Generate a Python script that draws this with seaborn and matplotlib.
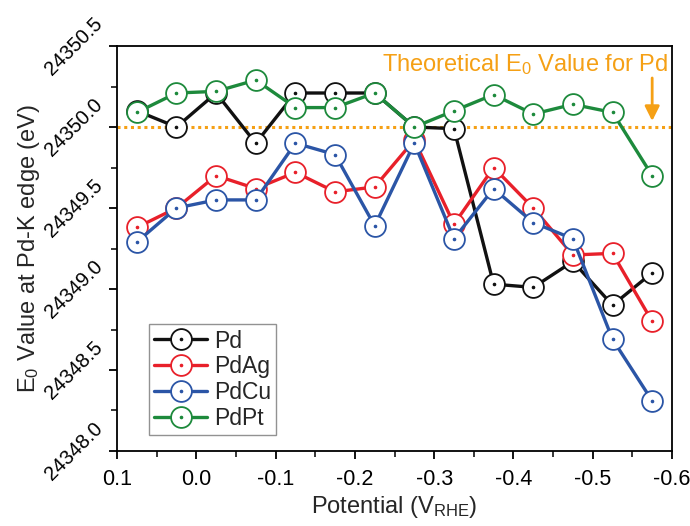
import numpy as np
import pandas as pd
import matplotlib
matplotlib.use("Agg")
import matplotlib.pyplot as plt
import seaborn as sns
from matplotlib.ticker import MultipleLocator
from matplotlib.legend_handler import HandlerTuple

potential = [0.075, 0.025, -0.025, -0.075, -0.125, -0.175, -0.225,
             -0.275, -0.325, -0.375, -0.425, -0.475, -0.525, -0.575]
pd_vals = [24350.10, 24350.00, 24350.21, 24349.90, 24350.21, 24350.21, 24350.21,
           24350.00, 24349.99, 24349.03, 24349.01, 24349.17, 24348.90, 24349.10]
pdag_vals = [24349.38, 24349.50, 24349.70, 24349.62, 24349.72, 24349.60, 24349.63,
             24349.92, 24349.40, 24349.75, 24349.50, 24349.21, 24349.22, 24348.80]
pdcu_vals = [24349.29, 24349.50, 24349.55, 24349.55, 24349.90, 24349.83, 24349.39,
             24349.90, 24349.31, 24349.62, 24349.41, 24349.31, 24348.69, 24348.31]
pdpt_vals = [24350.09, 24350.21, 24350.22, 24350.29, 24350.12, 24350.12, 24350.21,
             24350.00, 24350.10, 24350.20, 24350.08, 24350.14, 24350.09, 24349.70]
series_names = ["Pd", "PdAg", "PdCu", "PdPt"]
theoretical_e0 = 24350.0
x_ticks = [0.1, 0.0, -0.1, -0.2, -0.3, -0.4, -0.5, -0.6]
y_ticks = [24348.0, 24348.5, 24349.0, 24349.5, 24350.0, 24350.5]

colors = {"Pd": "#111111", "PdAg": "#e8202a", "PdCu": "#2b55a6", "PdPt": "#1d8a3c"}
orange = "#f5a015"

sns.set_theme(style="ticks")
plt.rcParams["font.family"] = ["Liberation Sans", "DejaVu Sans"]
plt.rcParams["mathtext.default"] = "regular"

fig = plt.figure(figsize=(6.9, 5.26), dpi=100)
ax = fig.add_axes([0.1696, 0.1426, 0.8043, 0.7699])

df = pd.DataFrame({
    "x": potential * 4,
    "y": pd_vals + pdag_vals + pdcu_vals + pdpt_vals,
    "series": sum([[n] * len(potential) for n in series_names], []),
})

# theoretical line
ax.axhline(theoretical_e0, color=orange, linestyle=(0, (1, 1.2)), linewidth=2.2, zorder=1)

handles = []
for i, name in enumerate(series_names):
    sub = df[df["series"] == name]
    c = colors[name]
    sns.lineplot(data=sub, x="x", y="y", ax=ax, color=c, sort=False,
                 linewidth=2.4, marker="o", markersize=15,
                 markerfacecolor="white", markeredgecolor=c, markeredgewidth=1.3,
                 zorder=3 + i, legend=False)
    line = ax.lines[-1]
    dots, = ax.plot(sub["x"], sub["y"], linestyle="none", marker="o", ms=1.6,
                    color=c, zorder=3 + i)
    handles.append((line, dots))

leg = ax.legend(handles, series_names, loc="lower left", bbox_to_anchor=(0.058, 0.04),
                handler_map={tuple: HandlerTuple(ndivide=1, pad=0)},
                fontsize=16.5, frameon=True, fancybox=False, edgecolor="#777777",
                handlelength=2.3, handletextpad=0.3, labelspacing=0.12,
                borderpad=0.22, borderaxespad=0)
leg.get_frame().set_linewidth(1.0)

ax.set_xlim(0.1, -0.6)
ax.set_ylim(24348.0, 24350.5)
ax.set_xticks(x_ticks)
ax.set_xticklabels([f"{v:.1f}" for v in x_ticks])
ax.set_yticks(y_ticks)
ax.set_yticklabels([f"{v:.1f}" for v in y_ticks], rotation=45, ha="right",
                   va="center")
ax.xaxis.set_minor_locator(MultipleLocator(0.05))
ax.yaxis.set_minor_locator(MultipleLocator(0.25))
ax.tick_params(axis="both", which="major", direction="out", length=6, width=1.3,
               color="black", labelcolor="black", top=False, right=False)
ax.tick_params(axis="x", which="major", labelsize=15.5, pad=7)
ax.tick_params(axis="y", which="major", labelsize=14.5, pad=2)
ax.tick_params(axis="both", which="minor", direction="out", length=4, width=1.3,
               top=False, right=False)
for s in ax.spines.values():
    s.set_visible(True)
    s.set_linewidth(1.3)
    s.set_color("black")

ax.set_xlabel(r"Potential (V$_{RHE}$)", fontsize=17)
ax.set_ylabel(r"E$_0$ Value at Pd-K edge (eV)", fontsize=17)
ax.xaxis.set_label_coords(0.5, -0.105)
ax.yaxis.set_label_coords(-0.135, 0.5)

ax.text(0.993, 0.955, r"Theoretical E$_0$ Value for Pd", transform=ax.transAxes,
        ha="right", va="center", color=orange, fontsize=17)
ax.annotate("", xy=(-0.575, theoretical_e0 + 0.02), xytext=(-0.575, 24350.32),
            arrowprops=dict(arrowstyle="-|>", color=orange, lw=2, mutation_scale=22),
            zorder=10)

fig.savefig("out.png", dpi=100)
